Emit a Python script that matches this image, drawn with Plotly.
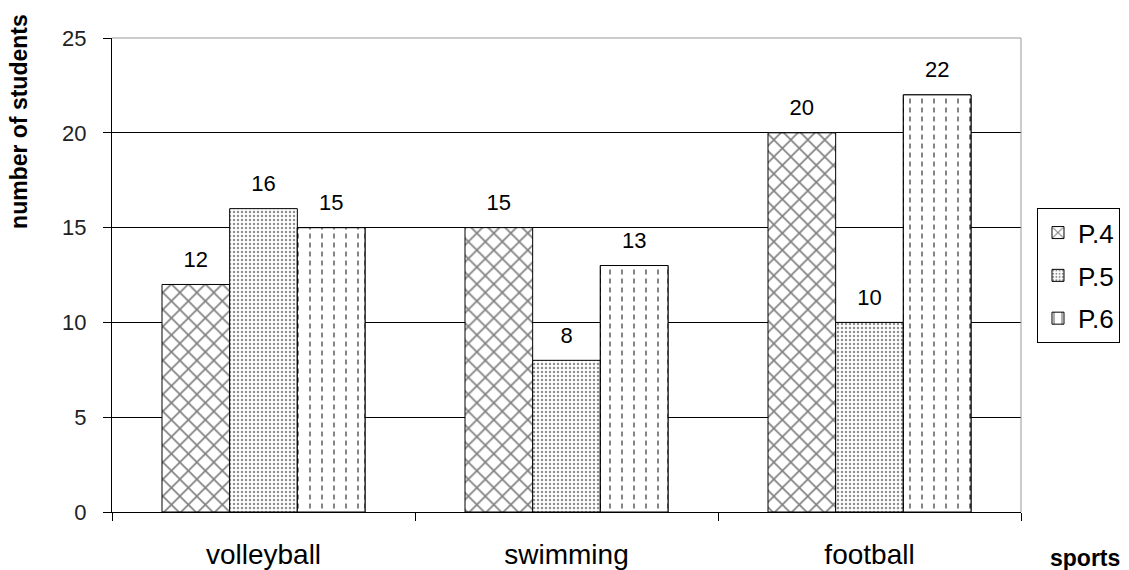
import plotly.graph_objects as go

categories = ["volleyball", "swimming", "football"]
series_names = ["P.4", "P.5", "P.6"]
p4_values = [12, 15, 20]
p5_values = [16, 8, 10]
p6_values = [15, 13, 22]
y_ticks = [0, 5, 10, 15, 20, 25]

FONT = "Arial, 'Liberation Sans', sans-serif"

fig = go.Figure()

patterns = [
    dict(shape="x", size=12, solidity=0.25, fgcolor="black", bgcolor="white"),
    dict(shape=".", size=4, solidity=0.3, fgcolor="#222222", bgcolor="white"),
    dict(shape="|", size=12, solidity=0.16, fgcolor="black", bgcolor="white"),
]
all_values = [p4_values, p5_values, p6_values]

for i, (name, vals) in enumerate(zip(series_names, all_values)):
    fig.add_trace(go.Bar(
        x=categories, y=vals, name=name, offsetgroup=str(i),
        legendgroup=name,
        marker=dict(color="white", pattern=patterns[i],
                    line=dict(color="black", width=1)),
    ))

# white stripes over the P.6 bars to break vertical lines into dashes
fig.add_trace(go.Bar(
    x=categories, y=p6_values, offsetgroup="2", showlegend=False,
    hoverinfo="skip",
    marker=dict(color="rgba(0,0,0,0)",
                pattern=dict(shape="-", size=9, solidity=0.45,
                             fgcolor="white", bgcolor="rgba(0,0,0,0)",
                             fillmode="overlay", fgopacity=1),
                line=dict(color="black", width=1)),
))

# value labels
for i, vals in enumerate(all_values):
    fig.add_trace(go.Scatter(
        x=categories, y=vals, offsetgroup=str(i), mode="markers+text",
        text=[str(v) for v in vals], textposition="top center",
        marker=dict(size=18, opacity=0), showlegend=False, hoverinfo="skip",
        cliponaxis=False,
        textfont=dict(family=FONT, size=22, color="black"),
    ))

fig.update_layout(
    width=1129, height=570,
    margin=dict(l=112, r=108, t=38, b=58, autoexpand=False),
    paper_bgcolor="white", plot_bgcolor="white",
    barmode="group", bargap=0.33, bargroupgap=0,
    scattermode="group", scattergap=0.33,
    font=dict(family=FONT, color="black"),
    showlegend=True,
    legend=dict(x=1.0176, y=0.641, xanchor="left", yanchor="top",
                bordercolor="black", borderwidth=1, bgcolor="white",
                font=dict(size=26, family=FONT, color="black"),
                traceorder="grouped", tracegroupgap=6,
                itemclick=False),
    xaxis=dict(type="category", tickson="boundaries", ticks="outside",
               ticklen=8, tickcolor="black", showline=True, linecolor="black",
               linewidth=1, showgrid=False, ticklabelstandoff=17,
               tickfont=dict(size=28, family=FONT, color="black"),
               range=[-0.5, 2.5]),
    yaxis=dict(range=[0, 25], tickvals=y_ticks, ticks="outside", ticklen=8,
               tickcolor="black", showline=True, linecolor="black",
               linewidth=1, showgrid=True, gridcolor="black", gridwidth=1,
               zeroline=False, ticklabelstandoff=12,
               tickfont=dict(size=22, family=FONT, color="#222")),
    annotations=[
        dict(text="<b>number of students</b>", xref="paper", yref="paper",
             x=-0.1023, y=0.823, xanchor="center", yanchor="middle",
             textangle=-90, showarrow=False,
             font=dict(size=23, family=FONT, color="black")),
        dict(text="<b>sports</b>", xref="paper", yref="paper",
             x=1.070, y=-0.097, xanchor="center", yanchor="middle",
             showarrow=False, font=dict(size=23, family=FONT, color="black")),
    ],
    shapes=[
        dict(type="line", xref="paper", yref="paper", x0=0, x1=1, y0=1, y1=1,
             line=dict(color="#999999", width=1), layer="above"),
        dict(type="line", xref="paper", yref="paper", x0=1, x1=1, y0=0, y1=1,
             line=dict(color="#999999", width=1), layer="above"),
    ],
)

fig.write_html("out.html",
               config={"displayModeBar": False},
               post_script="document.body.style.margin='0';document.body.style.overflow='hidden';")
